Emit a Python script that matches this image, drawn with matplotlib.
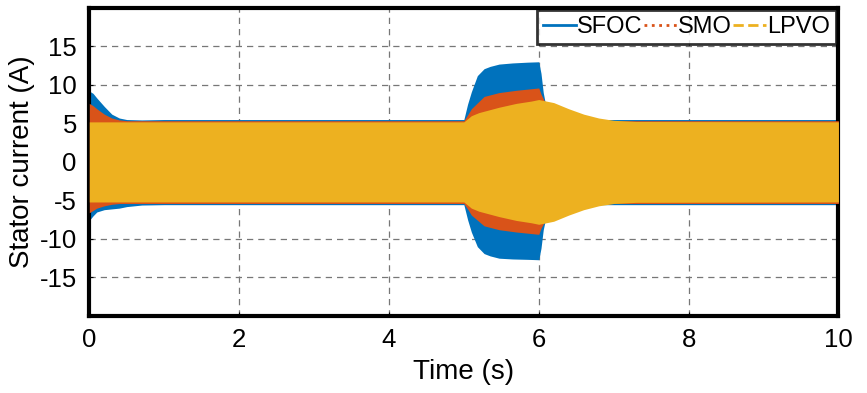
import numpy as np
import matplotlib.pyplot as plt
from matplotlib.lines import Line2D

plt.rcParams['font.family'] = ['Liberation Sans', 'DejaVu Sans']
plt.rcParams['axes.unicode_minus'] = False

# envelope of the stator current (A)
t_sfoc = [0, 0.05, 0.1, 0.2, 0.3, 0.4, 0.5, 0.7, 1.0, 5.0, 5.05, 5.1, 5.18, 5.27,
          5.35, 5.47, 5.65, 5.85, 6.0, 6.03, 6.06, 6.1, 6.2, 6.3, 10]
up_sfoc = [9.2, 8.9, 8.3, 7.2, 6.2, 5.7, 5.5, 5.45, 5.5, 5.5, 7.5, 9.1, 11.2, 12.1,
           12.4, 12.7, 12.85, 12.95, 13.0, 11.5, 9.0, 7.0, 6.0, 5.5, 5.5]
lo_sfoc = [-7.6, -7.0, -6.5, -6.2, -6.1, -6.0, -5.8, -5.6, -5.55, -5.55, -7.5, -9.1, -11.0,
           -11.9, -12.2, -12.5, -12.6, -12.65, -12.7, -11.2, -8.8, -7.0, -6.0, -5.55, -5.55]

t_smo = [0, 0.05, 0.1, 0.2, 0.3, 0.4, 0.5, 1.0, 5.0, 5.05, 5.1, 5.27, 5.47,
         5.7, 5.9, 6.0, 6.03, 6.08, 6.2, 6.4, 6.6, 6.8, 7.0, 10]
up_smo = [7.6, 7.3, 6.9, 6.2, 5.7, 5.45, 5.35, 5.35, 5.35, 6.1, 6.9, 8.5, 9.0,
          9.3, 9.5, 9.6, 8.8, 7.8, 7.0, 6.4, 5.9, 5.5, 5.35, 5.35]
lo_smo = [-6.6, -6.3, -6.0, -5.7, -5.5, -5.4, -5.4, -5.4, -5.4, -6.1, -6.9, -8.3, -8.8,
          -9.1, -9.3, -9.4, -8.6, -7.7, -7.0, -6.4, -5.9, -5.5, -5.4, -5.4]

t_lpvo = [0, 5.0, 5.1, 5.2, 5.47, 5.7, 5.9, 6.0, 6.2, 6.4, 6.6, 6.8, 7.0, 7.3, 10]
up_lpvo = [5.2, 5.2, 6.0, 6.4, 7.1, 7.6, 7.9, 8.1, 7.7, 6.9, 6.2, 5.7, 5.4, 5.25, 5.2]
lo_lpvo = [-5.2, -5.2, -6.0, -6.4, -7.1, -7.6, -7.9, -8.1, -7.7, -6.9, -6.2, -5.7, -5.4, -5.25, -5.2]

names = ['SFOC', 'SMO', 'LPVO']
colors = ['#0072BD', '#D95319', '#EDB120']
styles = ['-', ':', '--']

fig = plt.figure(figsize=(8.67, 3.93), dpi=100)
ax = fig.add_axes([0.103, 0.196, 0.864, 0.784])

ax.fill_between(t_sfoc, lo_sfoc, up_sfoc, color=colors[0], lw=0, zorder=2)
ax.fill_between(t_smo, lo_smo, up_smo, color=colors[1], lw=0, zorder=3)
ax.fill_between(t_lpvo, lo_lpvo, up_lpvo, color=colors[2], lw=0, zorder=4)

ax.set_xlim(0, 10)
ax.set_ylim(-20, 20)
ax.set_xticks([0, 2, 4, 6, 8, 10])
ax.set_yticks([-15, -10, -5, 0, 5, 10, 15])
ax.grid(True, color='#777777', ls=(0, (5, 4)), lw=0.9, zorder=1)
ax.set_axisbelow(True)
ax.tick_params(direction='in', length=3, labelsize=18.5, pad=9)
for sp in ax.spines.values():
    sp.set_linewidth(3)
ax.set_xlabel('Time (s)', fontsize=20, labelpad=5)
ax.set_ylabel('Stator current (A)', fontsize=20, labelpad=3)

handles = [Line2D([], [], color=c, ls=s, lw=2) for c, s in zip(colors, styles)]
leg = ax.legend(handles, names, loc='upper right', ncol=3, fontsize=17,
                frameon=True, fancybox=False, handlelength=1.4, handletextpad=0.05,
                columnspacing=0.05, borderpad=0.25, borderaxespad=0.1)
leg.get_frame().set_edgecolor('black')
leg.get_frame().set_linewidth(2)
leg.set_zorder(10)

fig.savefig('out.png', dpi=100)
